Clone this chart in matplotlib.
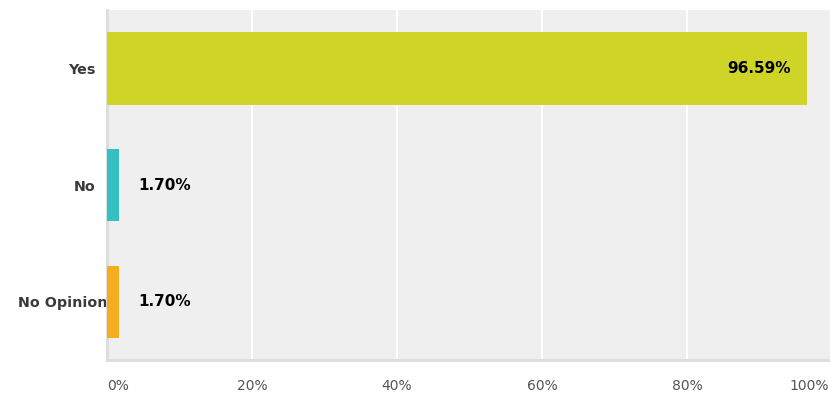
import matplotlib
matplotlib.use("Agg")
import matplotlib.pyplot as plt
import matplotlib.transforms as mtransforms

plt.rcParams['font.family'] = ['DejaVu Sans']

categories = ["Yes", "No", "No Opinion"]
values = [96.59, 1.70, 1.70]
colors = ["#cfd426", "#34bfc2", "#f5ad1f"]
ticks = [0, 20, 40, 60, 80, 100]
tick_labels = ["0%", "20%", "40%", "60%", "80%", "100%"]

fig = plt.figure(figsize=(8.3, 3.94), dpi=100)
# plot area runs a little past the right edge of the picture, as in the original
ax = fig.add_axes([107 / 830, 34 / 394, 725 / 830, 350 / 394])
ax.set_facecolor("#efefef")

ypos = list(range(len(categories)))
ax.barh(ypos, values, height=0.62, color=colors, zorder=3)
ax.set_xlim(0, 100)
ax.set_ylim(2.5, -0.5)

for t in ticks[1:-1]:
    ax.axvline(t, color="white", lw=1.5, zorder=1)

for s in ["top", "right"]:
    ax.spines[s].set_visible(False)
for s in ["left", "bottom"]:
    ax.spines[s].set_color("#dcdcdc")
    ax.spines[s].set_linewidth(2)

ax.set_yticks(ypos)
ax.set_yticklabels(categories, fontsize=10.3, fontweight="bold", color="#3a3a3a")
ax.tick_params(axis="y", length=0, pad=8)
ax.set_xticks([])

# x tick labels drawn by hand so the end ones stay inside the picture
for t, lab in zip(ticks, tick_labels):
    ha = "center"
    x = t
    if t == 0:
        ha = "left"
    if t == 100:
        ha = "right"
        x = 99.6
    ax.text(x, -0.075, lab, transform=ax.get_xaxis_transform(), ha=ha, va="center",
            fontsize=10, color="#555555")

# the long label overflows onto the plot slightly
for lbl in ax.get_yticklabels():
    if lbl.get_text() == "No Opinion":
        lbl.set_transform(lbl.get_transform() + mtransforms.ScaledTranslation(12 / 100, 0, fig.dpi_scale_trans))

for y, v in zip(ypos, values):
    txt = f"{v:.2f}%"
    if v > 50:
        ax.annotate(txt, (v, y), xytext=(-12, 0), textcoords="offset points", ha="right",
                    va="center", fontsize=11, fontweight="bold", color="black", zorder=4)
    else:
        ax.annotate(txt, (v, y), xytext=(14, 0), textcoords="offset points", ha="left",
                    va="center", fontsize=11, fontweight="bold", color="black", zorder=4)

fig.savefig("out.png", dpi=100)
